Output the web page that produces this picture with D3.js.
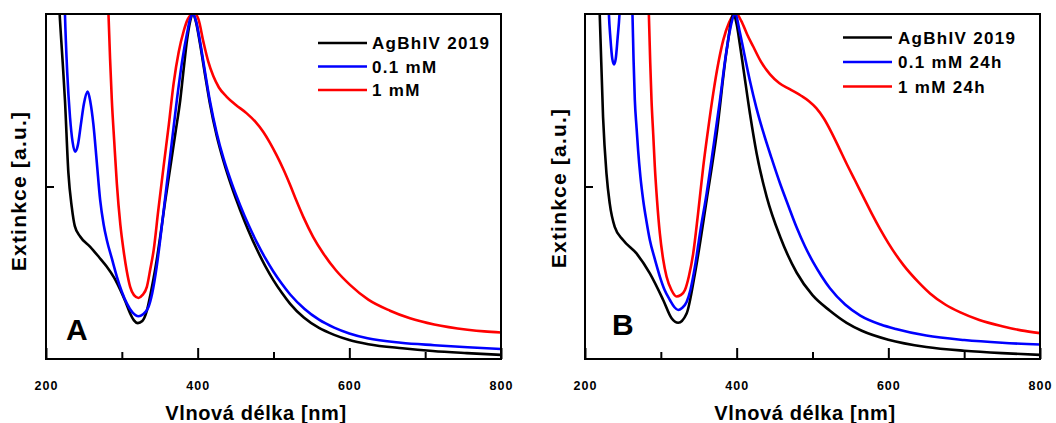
<!DOCTYPE html>
<html>
<head>
<meta charset="utf-8">
<script src="https://cdn.jsdelivr.net/npm/d3@7"></script>
<style>
  html, body { margin: 0; padding: 0; background: #fff; }
  svg { display: block; font-family: "Liberation Sans", Arial, sans-serif; font-weight: bold; }
</style>
</head>
<body>
<svg id="chart" width="1056" height="423"></svg>
<script>
// ---------------- DATA ----------------
const xTickLabels = [200, 400, 600, 800];
const xMinorTicks = [300, 500, 700];
const yTicks = [0.5];
const xTitle = "Vlnová délka [nm]";
const yTitle = "Extinkce [a.u.]";
const panelLetters = ["A", "B"];
const legendA = ["AgBhIV 2019", "0.1 mM", "1 mM"];
const legendB = ["AgBhIV 2019", "0.1 mM 24h", "1 mM 24h"];
const seriesColors = ["#000000", "#0000ff", "#ff0000"];

// panel A: AgBhIV 2019
const aRefNm  = [205, 212, 218, 222, 225, 229.5, 234, 238, 245, 258, 270, 280, 290, 298, 305, 311, 316, 321, 327, 333, 338, 344, 351, 357, 364, 371, 377, 382, 386, 390, 394, 398, 403, 410, 416, 425, 434, 445, 456, 467, 478, 489, 500, 511, 522, 540, 560, 580, 600, 625, 670, 710, 755, 800];
const aRefVal = [1.6, 1.3, 1.0, 0.86, 0.75, 0.54, 0.44, 0.385, 0.355, 0.326, 0.295, 0.268, 0.235, 0.2, 0.165, 0.132, 0.112, 0.104, 0.11, 0.14, 0.19, 0.26, 0.36, 0.455, 0.557, 0.66, 0.75, 0.85, 0.925, 0.978, 1.0, 0.975, 0.915, 0.82, 0.742, 0.648, 0.574, 0.498, 0.432, 0.372, 0.318, 0.27, 0.228, 0.192, 0.16, 0.12, 0.09, 0.07, 0.055, 0.043, 0.031, 0.023, 0.017, 0.012];

// panel A: 0.1 mM
const a01Nm  = [218, 222, 225, 228, 231.7, 235, 238.3, 242, 246, 250, 255, 258.5, 262.5, 267, 271.4, 276, 280.2, 287, 293.4, 300, 306.6, 314, 322, 328, 335, 340, 346, 353, 359.4, 366, 372.6, 380, 386, 390, 394, 398, 403, 410, 416, 425, 434, 445, 456, 467, 478, 489, 500, 511, 522, 541, 560, 580, 600, 624, 668, 712, 756, 800];
const a01Val = [1.6, 1.3, 1.0, 0.83, 0.70, 0.63, 0.601, 0.62, 0.68, 0.74, 0.775, 0.745, 0.68, 0.57, 0.461, 0.39, 0.345, 0.29, 0.239, 0.195, 0.161, 0.135, 0.124, 0.13, 0.15, 0.19, 0.268, 0.39, 0.509, 0.63, 0.751, 0.87, 0.944, 0.985, 1.0, 0.978, 0.922, 0.828, 0.75, 0.656, 0.582, 0.509, 0.446, 0.389, 0.338, 0.293, 0.253, 0.218, 0.187, 0.145, 0.114, 0.091, 0.074, 0.06, 0.047, 0.04, 0.034, 0.029];

// panel A: 1 mM
const a1Nm  = [278, 282.4, 284.5, 286.8, 290, 293.4, 298, 302.2, 306.5, 311, 316, 322, 327, 333, 337.5, 342, 348, 355, 362, 368.3, 375, 381.5, 387, 392, 397, 401, 407.5, 414, 420.6, 428, 438.3, 450, 464.7, 476, 486.6, 495, 504.2, 513, 521.8, 530, 539.3, 552, 565.7, 582, 600.9, 625, 653.7, 680, 711.9, 755.9, 778, 800];
const a1Val = [1.4, 1.0, 0.87, 0.751, 0.63, 0.509, 0.39, 0.316, 0.255, 0.209, 0.185, 0.177, 0.185, 0.209, 0.26, 0.316, 0.43, 0.557, 0.68, 0.799, 0.89, 0.95, 0.985, 0.998, 1.0, 0.985, 0.92, 0.862, 0.82, 0.787, 0.76, 0.737, 0.712, 0.688, 0.658, 0.628, 0.59, 0.55, 0.505, 0.46, 0.412, 0.355, 0.306, 0.258, 0.215, 0.172, 0.14, 0.118, 0.1, 0.085, 0.08, 0.077];

// panel B: AgBhIV 2019
const bRefNm  = [205, 212, 219.4, 223.8, 228.3, 232.6, 239.2, 250.2, 267.9, 285.5, 303.1, 314.2, 322.9, 334, 345, 360.4, 373.7, 386.9, 396, 400, 404, 409, 417.6, 426.4, 439.6, 457.2, 479.2, 500, 523, 545, 565, 600, 650, 700, 750, 800];
const bRefVal = [1.6, 1.3, 1.0, 0.702, 0.538, 0.451, 0.383, 0.345, 0.306, 0.248, 0.171, 0.118, 0.105, 0.132, 0.248, 0.461, 0.654, 0.896, 1.0, 0.97, 0.915, 0.84, 0.71, 0.595, 0.47, 0.355, 0.25, 0.185, 0.14, 0.105, 0.082, 0.056, 0.035, 0.024, 0.017, 0.012];

// panel B: 0.1 mM 24h
const b01Nm  = [228, 231.5, 233.5, 236, 238.3, 240.5, 243, 245.5, 249, 255, 259, 262.6, 264, 265.7, 268, 270, 273, 276.7, 281, 285.5, 292, 298.7, 305, 312, 318, 322.9, 328, 334, 339, 345, 352, 360.4, 369, 378, 385, 391.2, 398, 404.4, 410, 417.6, 426, 435, 446, 457, 468, 479, 490, 501, 512, 523, 543, 563, 590, 610, 650, 700, 750, 800];
const b01Val = [1.3, 1.0, 0.93, 0.87, 0.854, 0.87, 0.93, 1.0, 1.2, 1.3, 1.15, 1.0, 0.87, 0.751, 0.67, 0.606, 0.53, 0.461, 0.4, 0.345, 0.29, 0.239, 0.2, 0.171, 0.15, 0.142, 0.148, 0.165, 0.2, 0.268, 0.37, 0.48, 0.61, 0.751, 0.87, 0.954, 1.0, 0.945, 0.885, 0.805, 0.728, 0.658, 0.582, 0.51, 0.445, 0.382, 0.327, 0.28, 0.24, 0.205, 0.158, 0.126, 0.1, 0.087, 0.068, 0.055, 0.047, 0.042];

// panel B: 1 mM 24h
const b1Nm  = [280, 284.2, 286, 287.7, 290, 292.1, 295, 298.7, 303, 307.5, 314, 320.8, 326, 331.8, 337, 342.7, 349, 355.9, 362, 369.1, 376, 382.4, 390, 395, 400, 406, 414, 422, 432, 444, 456, 470, 485, 495, 505, 515, 525, 535, 545, 556, 567, 578, 589, 600, 620, 640, 655, 675, 695, 720, 750, 775, 800];
const b1Val = [1.4, 1.0, 0.86, 0.751, 0.65, 0.557, 0.46, 0.364, 0.29, 0.239, 0.2, 0.181, 0.185, 0.2, 0.24, 0.306, 0.42, 0.557, 0.66, 0.77, 0.86, 0.925, 0.975, 0.995, 1.0, 0.98, 0.94, 0.905, 0.862, 0.825, 0.8, 0.782, 0.763, 0.748, 0.727, 0.697, 0.657, 0.612, 0.566, 0.518, 0.47, 0.422, 0.377, 0.336, 0.272, 0.222, 0.19, 0.158, 0.135, 0.113, 0.095, 0.083, 0.075];

// ---------------- DRAW ----------------
const svg = d3.select("#chart");
const zip = (xs, ys) => xs.map((x, i) => [x, ys[i]]);

const panels = [
  { left: 46, right: 501, letter: panelLetters[0], letterX: 66, letterY: 340,
    xTitleX: 256, yTitleX: 26, yTitleY: 191,
    legend: legendA, legX1: 318, legX2: 367, legTextX: 372, legY: [43, 66.5, 90],
    series: [zip(aRefNm, aRefVal), zip(a01Nm, a01Val), zip(a1Nm, a1Val)] },
  { left: 585, right: 1040, letter: panelLetters[1], letterX: 612, letterY: 335,
    xTitleX: 805, yTitleX: 566, yTitleY: 188,
    legend: legendB, legX1: 843, legX2: 892, legTextX: 898, legY: [37.5, 62, 86.5],
    series: [zip(bRefNm, bRefVal), zip(b01Nm, b01Val), zip(b1Nm, b1Val)] }
];
const plotTop = 14, plotBottom = 359;

panels.forEach((p, pi) => {
  const x = d3.scaleLinear().domain([200, 800]).range([p.left, p.right]);
  const y = d3.scaleLinear().domain([0, 1]).range([plotBottom, plotTop]);
  const g = svg.append("g");

  const clipId = "clip" + pi;
  svg.append("defs").append("clipPath").attr("id", clipId)
    .append("rect").attr("x", p.left).attr("y", plotTop)
    .attr("width", p.right - p.left).attr("height", plotBottom - plotTop);

  const line = d3.line().x(d => x(d[0])).y(d => y(d[1])).curve(d3.curveMonotoneX);

  const order = [2, 0, 1];
  order.forEach(si => {
    g.append("path").datum(p.series[si])
      .attr("clip-path", `url(#${clipId})`)
      .attr("fill", "none").attr("stroke", seriesColors[si])
      .attr("stroke-width", 2.6).attr("stroke-linejoin", "round")
      .attr("d", line);
  });

  // frame
  g.append("rect").attr("x", p.left).attr("y", plotTop)
    .attr("width", p.right - p.left).attr("height", plotBottom - plotTop)
    .attr("fill", "none").attr("stroke", "#000").attr("stroke-width", 2);

  // x axis (ticks inward)
  const xAxis = d3.axisBottom(x).tickValues(xTickLabels).tickSize(-11).tickPadding(22)
    .tickFormat(d3.format("d"));
  const ax = g.append("g").attr("transform", `translate(0,${plotBottom})`).call(xAxis);
  ax.select(".domain").remove();
  ax.selectAll(".tick line").attr("stroke", "#000").attr("stroke-width", 2);
  ax.selectAll(".tick text").attr("font-size", 12.5).attr("font-weight", "bold")
    .attr("font-family", "Liberation Sans, Arial, sans-serif")
    .attr("letter-spacing", "1px").attr("fill", "#000");

  const xMinor = d3.axisBottom(x).tickValues(xMinorTicks).tickSize(-7).tickFormat("");
  const axm = g.append("g").attr("transform", `translate(0,${plotBottom})`).call(xMinor);
  axm.select(".domain").remove();
  axm.selectAll(".tick line").attr("stroke", "#000").attr("stroke-width", 2);

  // y axis tick (inward, no label)
  const yAxis = d3.axisLeft(y).tickValues(yTicks).tickSize(-8).tickFormat("");
  const ay = g.append("g").attr("transform", `translate(${p.left},0)`).call(yAxis);
  ay.select(".domain").remove();
  ay.selectAll(".tick line").attr("stroke", "#000").attr("stroke-width", 2);

  // axis titles
  g.append("text").attr("x", p.xTitleX).attr("y", 420)
    .attr("text-anchor", "middle").attr("font-size", 20).attr("letter-spacing", "0.6px")
    .text(xTitle);
  g.append("text").attr("transform", `translate(${p.yTitleX},${p.yTitleY}) rotate(-90)`)
    .attr("text-anchor", "middle").attr("font-size", 21).attr("letter-spacing", "1.2px")
    .text(yTitle);

  // panel letter
  g.append("text").attr("x", p.letterX).attr("y", p.letterY)
    .attr("font-size", 30).text(p.letter);

  // legend
  p.legend.forEach((lab, i) => {
    g.append("line").attr("x1", p.legX1).attr("x2", p.legX2)
      .attr("y1", p.legY[i]).attr("y2", p.legY[i])
      .attr("stroke", seriesColors[i]).attr("stroke-width", 2.6);
    g.append("text").attr("x", p.legTextX).attr("y", p.legY[i])
      .attr("dy", "0.36em").attr("font-size", 17).attr("letter-spacing", "1.3px")
      .text(lab);
  });
});
</script>
</body>
</html>
